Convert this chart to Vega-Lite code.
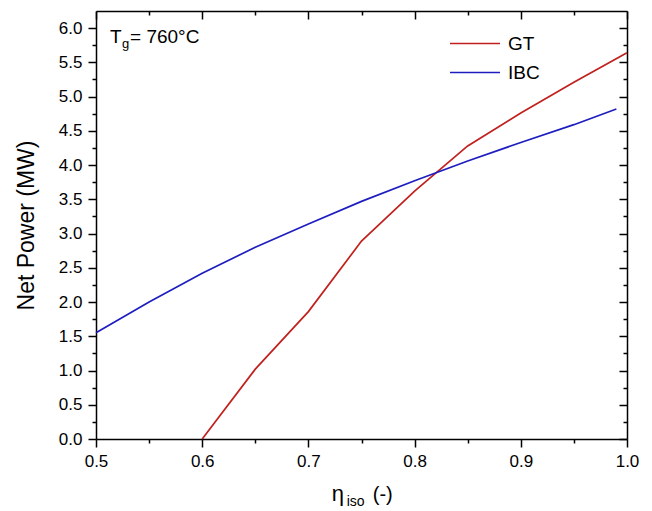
{
  "$schema": "https://vega.github.io/schema/vega-lite/v6.json",
  "width": 531,
  "height": 428,
  "autosize": "none",
  "padding": {"left": 96, "top": 11, "right": 25, "bottom": 72},
  "background": "white",
  "config": {
    "font": "Liberation Sans",
    "view": {"stroke": null},
    "axis": {
      "grid": false,
      "domainColor": "black",
      "tickColor": "black",
      "labelColor": "black",
      "titleColor": "black",
      "domainWidth": 1.5,
      "tickWidth": 1.5,
      "labelFont": "Liberation Sans",
      "titleFont": "Liberation Sans",
      "labelFontSize": 17,
      "labelFlush": false,
      "labelOverlap": false
    }
  },
  "data": {
    "values": [
      {"series": "GT", "eta": 0.6, "power": 0.0},
      {"series": "GT", "eta": 0.65, "power": 1.02},
      {"series": "GT", "eta": 0.7, "power": 1.86},
      {"series": "GT", "eta": 0.75, "power": 2.89},
      {"series": "GT", "eta": 0.8, "power": 3.62},
      {"series": "GT", "eta": 0.85, "power": 4.28},
      {"series": "GT", "eta": 0.9, "power": 4.76},
      {"series": "GT", "eta": 0.95, "power": 5.21},
      {"series": "GT", "eta": 1.0, "power": 5.64},
      {"series": "IBC", "eta": 0.5, "power": 1.55},
      {"series": "IBC", "eta": 0.55, "power": 2.0},
      {"series": "IBC", "eta": 0.6, "power": 2.42},
      {"series": "IBC", "eta": 0.65, "power": 2.8},
      {"series": "IBC", "eta": 0.7, "power": 3.14},
      {"series": "IBC", "eta": 0.75, "power": 3.47},
      {"series": "IBC", "eta": 0.8, "power": 3.77},
      {"series": "IBC", "eta": 0.85, "power": 4.06},
      {"series": "IBC", "eta": 0.9, "power": 4.33},
      {"series": "IBC", "eta": 0.95, "power": 4.59},
      {"series": "IBC", "eta": 0.99, "power": 4.82}
    ]
  },
  "layer": [
    {
      "mark": {"type": "line", "strokeWidth": 1.7},
      "encoding": {
        "x": {"field": "eta", "type": "quantitative", "scale": {"domain": [0.5, 1.0], "nice": false, "zero": false},
          "axis": {"orient": "bottom", "values": [0.5, 0.6, 0.7, 0.8, 0.9, 1.0], "format": ".1f", "tickSize": 8, "labelPadding": 6, "title": null}},
        "y": {"field": "power", "type": "quantitative", "scale": {"domain": [0, 6.25], "nice": false},
          "axis": {"orient": "left", "values": [0, 0.5, 1, 1.5, 2, 2.5, 3, 3.5, 4, 4.5, 5, 5.5, 6], "format": ".1f", "tickSize": 8, "labelPadding": 6, "title": "Net Power (MW)", "titleFontSize": 23, "titleFontWeight": "normal", "titlePadding": 20}},
        "color": {"field": "series", "type": "nominal",
          "scale": {"domain": ["GT", "IBC"], "range": ["#c0201e", "#1e1ec0"]},
          "legend": {"title": null, "orient": "none", "legendX": 353, "legendY": 19, "clipHeight": 27, "rowPadding": 2, "symbolType": "stroke", "symbolSize": 2500, "symbolStrokeWidth": 1.7, "labelFontSize": 19, "labelFont": "Liberation Sans", "labelColor": "black", "labelOffset": 7}}
      }
    },
    {
      "mark": {"type": "line", "strokeOpacity": 0},
      "encoding": {
        "x": {"field": "eta", "type": "quantitative", "scale": {"domain": [0.5, 1.0], "nice": false, "zero": false},
          "axis": {"orient": "bottom", "values": [0.55, 0.65, 0.75, 0.85, 0.95], "tickSize": 4, "labels": false, "domain": false, "title": null}},
        "y": {"field": "power", "type": "quantitative", "scale": {"domain": [0, 6.25], "nice": false},
          "axis": {"orient": "left", "values": [0.25, 0.75, 1.25, 1.75, 2.25, 2.75, 3.25, 3.75, 4.25, 4.75, 5.25, 5.75], "tickSize": 4, "labels": false, "domain": false, "title": null}},
        "detail": {"field": "series"}
      }
    },
    {
      "mark": {"type": "line", "strokeOpacity": 0},
      "encoding": {
        "x": {"field": "eta", "type": "quantitative", "scale": {"domain": [0.5, 1.0], "nice": false, "zero": false},
          "axis": {"orient": "top", "values": [0.5, 0.6, 0.7, 0.8, 0.9, 1.0], "tickSize": -8, "labels": false, "title": null}},
        "y": {"field": "power", "type": "quantitative", "scale": {"domain": [0, 6.25], "nice": false},
          "axis": {"orient": "right", "values": [0, 0.5, 1, 1.5, 2, 2.5, 3, 3.5, 4, 4.5, 5, 5.5, 6], "tickSize": -8, "labels": false, "title": null}},
        "detail": {"field": "series"}
      }
    },
    {
      "mark": {"type": "line", "strokeOpacity": 0},
      "encoding": {
        "x": {"field": "eta", "type": "quantitative", "scale": {"domain": [0.5, 1.0], "nice": false, "zero": false},
          "axis": {"orient": "top", "values": [0.55, 0.65, 0.75, 0.85, 0.95], "tickSize": -4, "labels": false, "domain": false, "title": null}},
        "y": {"field": "power", "type": "quantitative", "scale": {"domain": [0, 6.25], "nice": false},
          "axis": {"orient": "right", "values": [0.25, 0.75, 1.25, 1.75, 2.25, 2.75, 3.25, 3.75, 4.25, 4.75, 5.25, 5.75], "tickSize": -4, "labels": false, "domain": false, "title": null}},
        "detail": {"field": "series"}
      }
    },
    {
      "data": {"values": [{}]},
      "mark": {"type": "text", "text": "T", "align": "left", "baseline": "alphabetic", "fontSize": 19, "font": "Liberation Sans", "color": "black"},
      "encoding": {
        "x": {"datum": 0.5132, "type": "quantitative", "axis": null},
        "y": {"datum": 5.78, "type": "quantitative", "axis": null}
      }
    },
    {
      "data": {"values": [{}]},
      "mark": {"type": "text", "text": "g", "align": "left", "baseline": "alphabetic", "fontSize": 13, "font": "Liberation Sans", "color": "black", "dx": 12, "dy": 5},
      "encoding": {
        "x": {"datum": 0.5132, "type": "quantitative", "axis": null},
        "y": {"datum": 5.78, "type": "quantitative", "axis": null}
      }
    },
    {
      "data": {"values": [{}]},
      "mark": {"type": "text", "text": "= 760°C", "align": "left", "baseline": "alphabetic", "fontSize": 19, "font": "Liberation Sans", "color": "black", "dx": 20},
      "encoding": {
        "x": {"datum": 0.5132, "type": "quantitative", "axis": null},
        "y": {"datum": 5.78, "type": "quantitative", "axis": null}
      }
    },
    {
      "data": {"values": [{}]},
      "mark": {"type": "text", "text": "η", "align": "left", "baseline": "alphabetic", "fontSize": 22, "font": "Liberation Sans", "color": "black"},
      "encoding": {
        "x": {"datum": 0.722, "type": "quantitative", "axis": null},
        "y": {"datum": -0.91, "type": "quantitative", "axis": null}
      }
    },
    {
      "data": {"values": [{}]},
      "mark": {"type": "text", "text": "iso", "align": "left", "baseline": "alphabetic", "fontSize": 14, "font": "Liberation Sans", "color": "black", "dx": 15, "dy": 5},
      "encoding": {
        "x": {"datum": 0.722, "type": "quantitative", "axis": null},
        "y": {"datum": -0.91, "type": "quantitative", "axis": null}
      }
    },
    {
      "data": {"values": [{}]},
      "mark": {"type": "text", "text": "(-)", "align": "left", "baseline": "alphabetic", "fontSize": 20, "font": "Liberation Sans", "color": "black", "dx": 41},
      "encoding": {
        "x": {"datum": 0.722, "type": "quantitative", "axis": null},
        "y": {"datum": -0.91, "type": "quantitative", "axis": null}
      }
    }
  ],
  "resolve": {"axis": {"x": "independent", "y": "independent"}}
}
